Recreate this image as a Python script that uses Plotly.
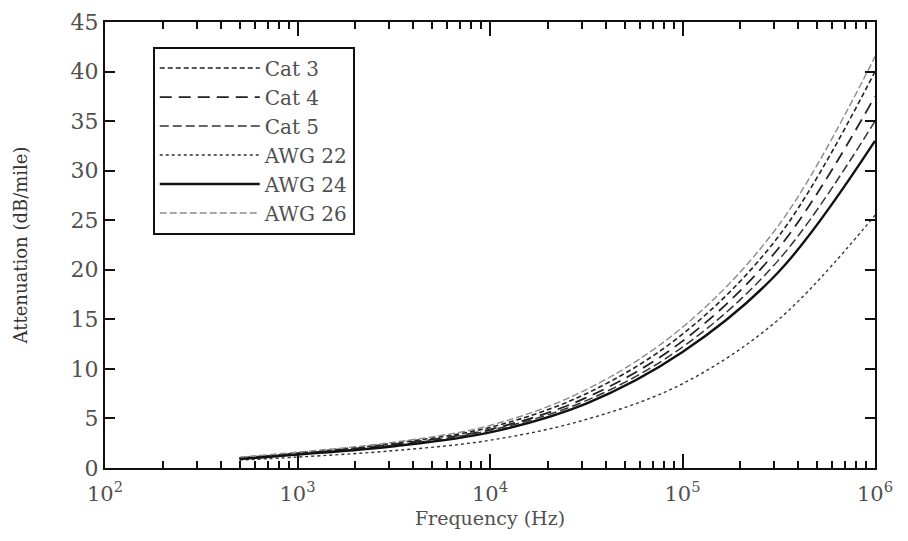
import plotly.graph_objects as go

freq_hz = [500, 1e3, 3162, 1e4, 31623, 1e5, 316228, 1e6]

cat3 = [1.0, 1.5, 2.5, 4.1, 7.5, 13.5, 23.4, 40.0]
cat4 = [1.0, 1.45, 2.4, 3.9, 7.1, 12.8, 22.2, 37.5]
cat5 = [0.95, 1.4, 2.3, 3.8, 6.8, 12.2, 21.0, 35.0]
awg22 = [0.8, 1.1, 1.75, 2.8, 4.9, 8.5, 15.0, 25.5]
awg24 = [0.9, 1.35, 2.2, 3.6, 6.5, 11.7, 19.8, 33.0]
awg26 = [1.1, 1.6, 2.6, 4.3, 7.9, 14.2, 24.5, 41.5]

series_names = ["Cat 3", "Cat 4", "Cat 5", "AWG 22", "AWG 24", "AWG 26"]
series_values = [cat3, cat4, cat5, awg22, awg24, awg26]

x_tick_exps = [2, 3, 4, 5, 6]
y_ticks = [0, 5, 10, 15, 20, 25, 30, 35, 40, 45]

styles = [
    dict(color="#222222", width=1.6, dash="5px,3px"),
    dict(color="#222222", width=1.8, dash="12px,7px"),
    dict(color="#333333", width=1.5, dash="9px,4px"),
    dict(color="#333333", width=1.4, dash="3px,3px"),
    dict(color="#111111", width=2.4, dash="solid"),
    dict(color="#8a8a8a", width=1.4, dash="7px,3px"),
]

fig = go.Figure()
for i, (name, vals) in enumerate(zip(series_names, series_values)):
    fig.add_trace(go.Scatter(
        x=freq_hz, y=vals, mode="lines", name=name,
        line=dict(shape="spline", **styles[i]),
        legendgroup=name,
    ))

font_family = "DejaVu Serif, Liberation Serif, serif"
minor_vals = [m * 10 ** e for e in range(2, 6) for m in range(2, 10)]

fig.update_layout(
    width=908, height=541,
    margin=dict(l=97, r=41, t=14, b=81),
    paper_bgcolor="white", plot_bgcolor="white",
    font=dict(family=font_family, color="#505050", size=18),
    showlegend=True,
    legend=dict(
        x=0.062, y=0.945, xanchor="left", yanchor="top",
        bordercolor="#111111", borderwidth=2, bgcolor="white",
        font=dict(family=font_family, size=20, color="#505050"),
        tracegroupgap=0, itemwidth=100,
    ),
    xaxis=dict(
        type="log", range=[2, 6], automargin=False,
        tickvals=[10 ** e for e in x_tick_exps],
        ticktext=["10<sup>%d</sup>" % e for e in x_tick_exps],
        ticks="inside", ticklen=14, tickwidth=2, tickcolor="#111111",
        ticklabelstandoff=6,
        minor=dict(tickvals=minor_vals, ticks="inside", ticklen=7,
                   tickwidth=2, tickcolor="#111111", showgrid=False),
        showline=True, linecolor="#111111", linewidth=2, mirror="ticks",
        showgrid=False, zeroline=False,
        title=dict(text="Frequency (Hz)", font=dict(size=19), standoff=6),
        tickfont=dict(size=21),
    ),
    yaxis=dict(
        range=[0, 45], tickvals=y_ticks, automargin=False,
        ticks="inside", ticklen=10, tickwidth=2, tickcolor="#111111",
        showline=True, linecolor="#111111", linewidth=2, mirror="ticks",
        showgrid=False, zeroline=False,
        title=dict(text="Attenuation (dB/mile)", font=dict(size=18, color="#333333"), standoff=38),
        tickfont=dict(size=22),
    ),
)

fig.write_html("out.html")
